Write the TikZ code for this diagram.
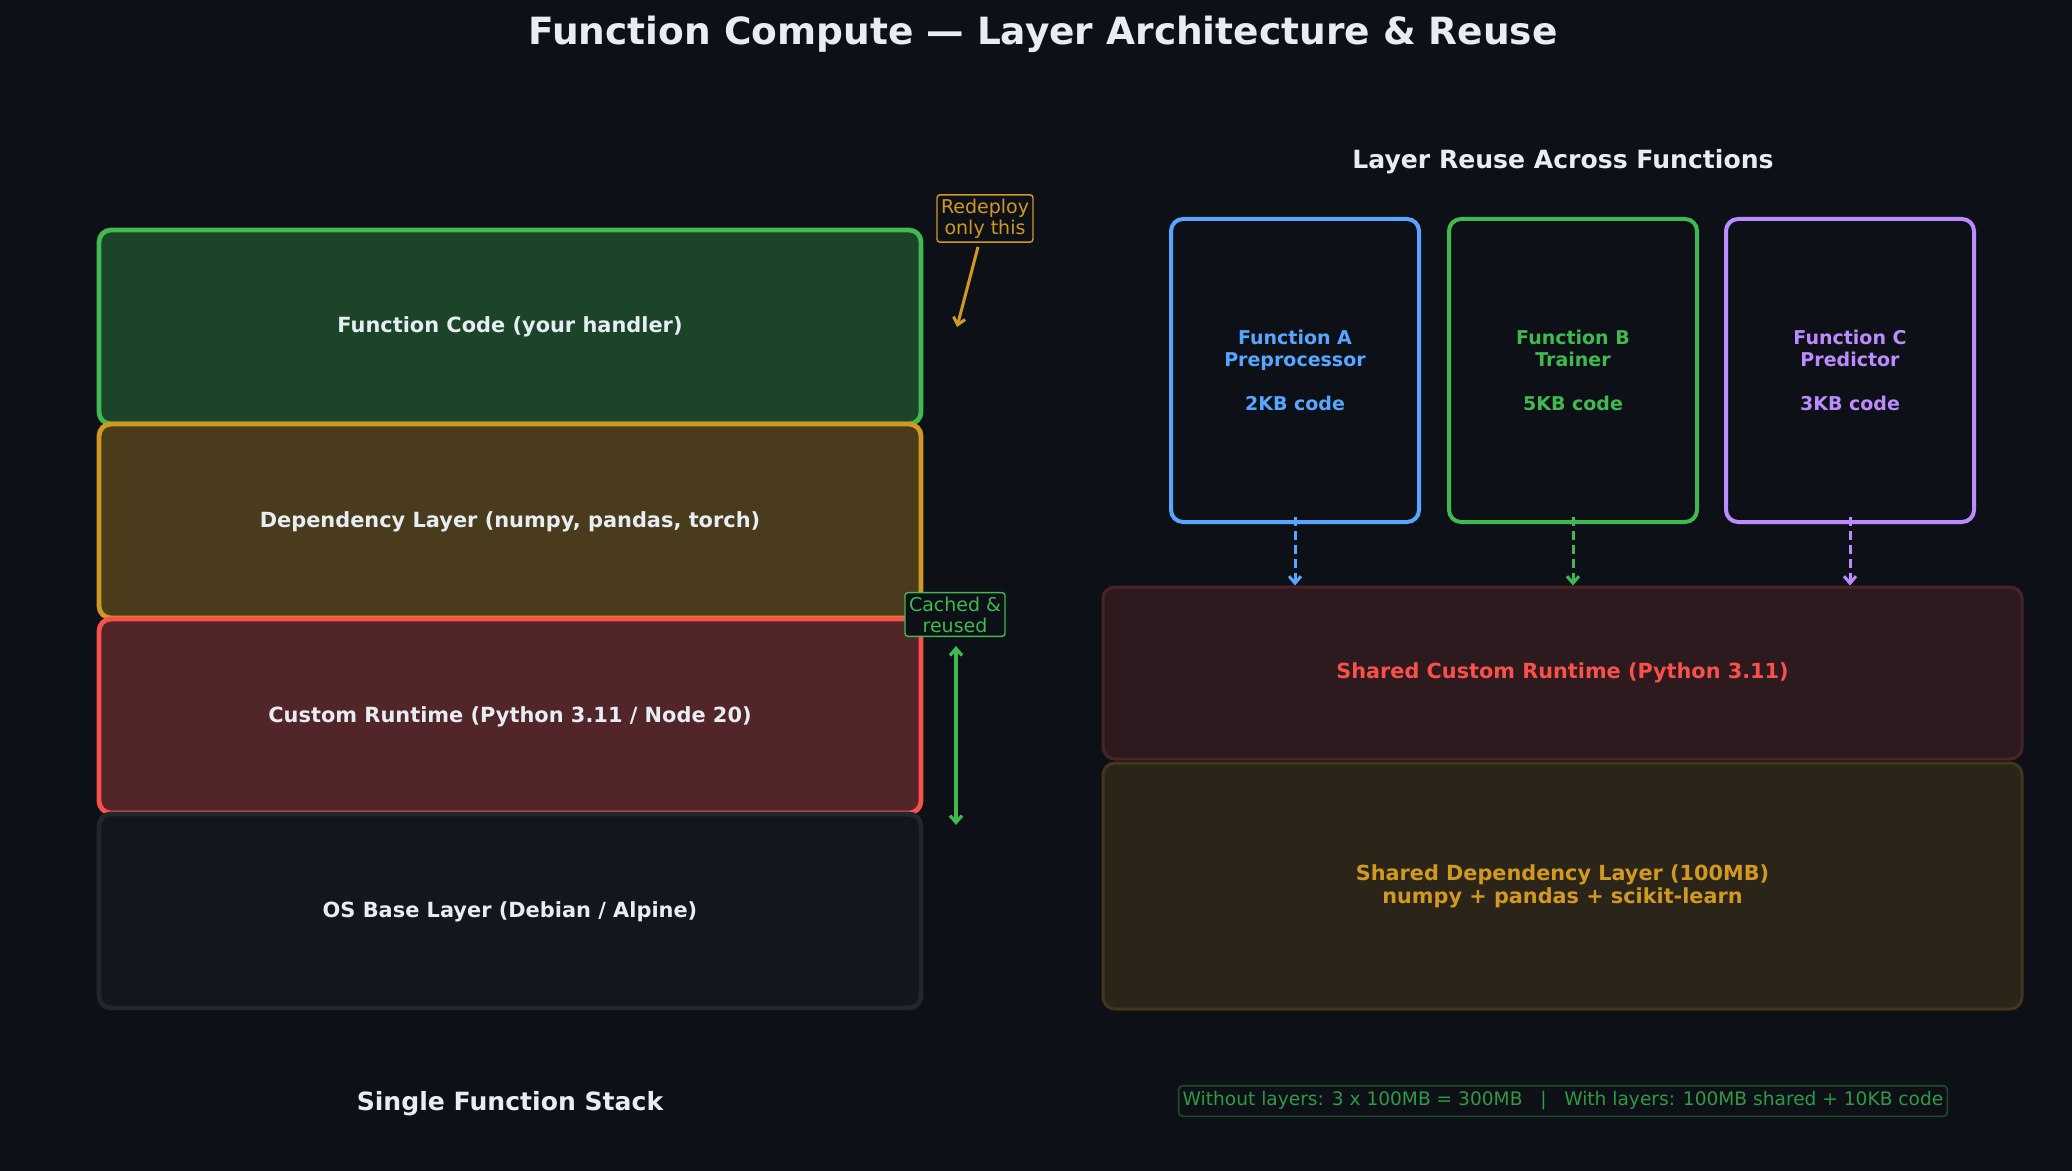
\documentclass[tikz,border=0pt]{standalone}
\usepackage{fontspec}
\setmainfont{DejaVu Sans}
\usetikzlibrary{arrows.meta}
\definecolor{bg}{HTML}{0D1117}
\definecolor{txt}{HTML}{E6EDF3}
\definecolor{cgreen}{HTML}{3FB950}
\definecolor{corange}{HTML}{D29922}
\definecolor{cred}{HTML}{F85149}
\definecolor{cblue}{HTML}{58A6FF}
\definecolor{cpurple}{HTML}{BC8CFF}
\definecolor{fcfill}{HTML}{1C4429}
\definecolor{depfill}{HTML}{4A3B1C}
\definecolor{rtfill}{HTML}{522528}
\definecolor{osfill}{HTML}{13161D}
\definecolor{osline}{HTML}{22262D}
\definecolor{srtfill}{HTML}{2D1A1E}
\definecolor{srtline}{HTML}{4A2326}
\definecolor{sdepfill}{HTML}{2A2419}
\definecolor{sdepline}{HTML}{44361A}
\definecolor{notegreen}{HTML}{2F9A42}
\definecolor{noteline}{HTML}{1E4A2A}
\tikzset{
  layer/.style={draw, rounded corners=6pt, line width=2.4pt, minimum width=411pt, minimum height=97pt, inner sep=0pt, text=txt, font=\bfseries\fontsize{10.45}{12}\selectfont, text height=1.0em, text depth=0.4em},
  funcbox/.style={draw, fill=bg, rounded corners=6pt, line width=2pt, minimum width=124pt, minimum height=151.5pt, inner sep=0pt, align=center, font=\bfseries\fontsize{9.5}{11}\selectfont},
  shared/.style={draw, rounded corners=6pt, line width=1.5pt, minimum width=459.5pt, inner sep=0pt, align=center, font=\bfseries\fontsize{10.4}{11.5}\selectfont},
  annot/.style={draw, fill=bg, rounded corners=1.5pt, line width=0.7pt, inner sep=2pt, align=center, font=\fontsize{9.5}{10.5}\selectfont},
  barb/.tip={Straight Barb[length=3.5pt,width=6pt]},
  dasharrow/.style={line width=1.5pt, dash pattern=on 4.5pt off 2.5pt, -barb},
}
\begin{document}
\begin{tikzpicture}[x=0.5pt,y=-0.5pt]
\useasboundingbox[fill=bg] (0,0) rectangle (2072,1171);
% title
\node[text=txt, font=\bfseries\fontsize{18.75}{22}\selectfont] (title) at (1043,34.5) {Function Compute — Layer Architecture \& Reuse};
% left stack
\node[layer, fill=fcfill, draw=cgreen] (fc) at (510,327) {Function Code (your handler)};
\node[layer, fill=depfill, draw=corange] (dep) at (510,521) {Dependency Layer (numpy, pandas, torch)};
\node[layer, fill=rtfill, draw=cred] (rt) at (510,716) {Custom Runtime (Python 3.11 / Node 20)};
\node[layer, fill=osfill, draw=osline] (os) at (510,911) {OS Base Layer (Debian / Alpine)};
\node[text=txt, font=\bfseries\fontsize{12.55}{14}\selectfont] (stacklbl) at (510,1103.5) {Single Function Stack};
% annotations
\node[annot, draw=corange, text=corange] (redeploy) at (985,218.5) {Redeploy\\only this};
\coordinate (rdtip) at (957,327);
\draw[corange, line width=1.5pt, -barb] (redeploy.south) ++(-7,4) -- (rdtip);
\node[annot, draw=cgreen, text=cgreen] (cached) at (955,614.5) {Cached \&\\reused};
\coordinate (ctop) at (956,646);
\coordinate (cbot) at (956,825);
\draw[cgreen, line width=1.6pt, barb-barb] (ctop) -- (cbot);
% right panel
\node[text=txt, font=\bfseries\fontsize{12.55}{14}\selectfont] (reuse) at (1563,161.5) {Layer Reuse Across Functions};
\node[funcbox, draw=cblue, text=cblue] (fa) at (1295,370.5) {Function A\\Preprocessor\\[11pt]2KB code};
\node[funcbox, draw=cgreen, text=cgreen] (fb) at (1573,370.5) {Function B\\Trainer\\[11pt]5KB code};
\node[funcbox, draw=cpurple, text=cpurple] (fcc) at (1850,370.5) {Function C\\Predictor\\[11pt]3KB code};
\node[shared, fill=srtfill, draw=srtline, text=cred, minimum height=86pt] (srt) at (1562.5,673) {Shared Custom Runtime (Python 3.11)};
\node[shared, fill=sdepfill, draw=sdepline, text=corange, minimum height=123pt] (sdep) at (1562.5,886) {Shared Dependency Layer (100MB)\\numpy + pandas + scikit-learn};
\draw[dasharrow, cblue] ([yshift=3.5pt]fa.south) -- (fa.south |- srt.north);
\draw[dasharrow, cgreen] ([yshift=3.5pt]fb.south) -- (fb.south |- srt.north);
\draw[dasharrow, cpurple] ([yshift=3.5pt]fcc.south) -- (fcc.south |- srt.north);
\node[draw=noteline, fill=bg, rounded corners=2pt, line width=0.8pt, inner xsep=2pt, inner ysep=3pt, text=notegreen, font=\fontsize{9.3}{11}\selectfont] (note) at (1563,1101) {Without layers: 3 x 100MB = 300MB \ \ | \ \ With layers: 100MB shared + 10KB code};
\end{tikzpicture}
\end{document}
